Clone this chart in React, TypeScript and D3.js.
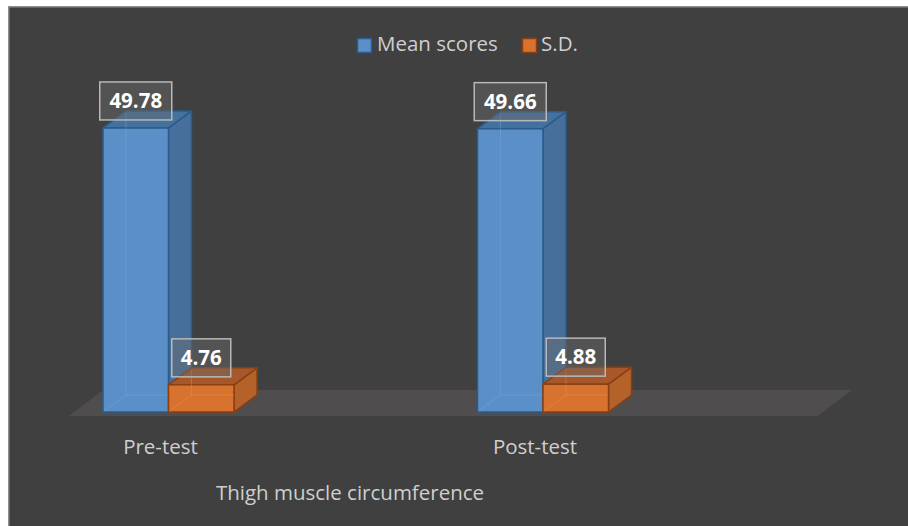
import React from "react";
import * as d3 from "d3";

const categories = ["Pre-test", "Post-test"];
const seriesNames = ["Mean scores", "S.D."];
const meanScores = [49.78, 49.66];
const sdValues = [4.76, 4.88];
const axisTitle = "Thigh muscle circumference";

const W = 908;
const H = 526;
const FONT = "'Open Sans', 'Noto Sans', sans-serif";
const DX = 23;
const DY = 17;

const palette = [
  { front: "#5a8fc7", side: "#46709b", top: "#44729f", stroke: "#2c5a8a", ghost: "#78aee6" },
  { front: "#d8732f", side: "#b4612a", top: "#a7582a", stroke: "#8a3f10", ghost: "#f0945a" },
];

export default function App() {
  const x = d3.scaleBand<string>().domain(categories).range([69, 818]).padding(0);
  const groupOffset = 34;
  const groupWidth = 131;
  const xs = d3.scaleBand<string>().domain(seriesNames).range([0, groupWidth]).padding(0);
  const y = d3.scaleLinear().domain([0, 50]).range([412, 412 - 285.3]);
  const values = [meanScores, sdValues];

  const floorY0 = 416;
  const floorY1 = 390;
  const [fx0, fx1] = x.range();
  const floor = `M${fx0},${floorY0} L${fx1},${floorY0} L${fx1 + 34},${floorY1} L${fx0 + 34},${floorY1} Z`;

  const bars: React.ReactNode[] = [];
  const labels: React.ReactNode[] = [];
  categories.forEach((cat, ci) => {
    seriesNames.forEach((s, si) => {
      const v = values[si][ci];
      const x0 = (x(cat) as number) + groupOffset + (xs(s) as number);
      const x1 = x0 + xs.bandwidth();
      const yt = y(v);
      const yb = y(0);
      const c = palette[si];
      bars.push(
        <g key={`${cat}-${s}`} strokeLinejoin="round">
          <polygon
            points={`${x1},${yt} ${x1 + DX},${yt - DY} ${x1 + DX},${yb - DY} ${x1},${yb}`}
            fill={c.side}
            stroke={c.stroke}
            strokeWidth={1.5}
          />
          <polygon
            points={`${x0},${yt} ${x0 + DX},${yt - DY} ${x1 + DX},${yt - DY} ${x1},${yt}`}
            fill={c.top}
            stroke={c.stroke}
            strokeWidth={1.5}
          />
          <rect x={x0} y={yt} width={x1 - x0} height={yb - yt} fill={c.front} stroke={c.stroke} strokeWidth={1.5} />
          <path
            d={`M${x0 + DX},${yt - DY + 2} L${x0 + DX},${yb - DY} L${x0 + 1},${yb - 1} M${x0 + DX},${yb - DY} L${x1},${yb - DY}`}
            fill="none"
            stroke={c.ghost}
            strokeOpacity={0.35}
            strokeWidth={1}
          />
        </g>
      );
      const txt = v.toFixed(2);
      const bw = si === 0 ? 72 : 59;
      const bh = 38;
      const cx = (x0 + x1) / 2;
      const by = yt - 8 - bh;
      labels.push(
        <g key={`lab-${cat}-${s}`}>
          <rect x={cx - bw / 2} y={by} width={bw} height={bh} fill="#6a6a6a" fillOpacity={0.45} stroke="#b8b8b8" strokeWidth={1.5} />
          <text x={cx} y={by + bh / 2 + 7} textAnchor="middle" fontFamily={FONT} fontWeight={700} fontSize={20.5} fill="#ffffff">
            {txt}
          </text>
        </g>
      );
    });
  });

  return (
    <svg width={W} height={H} style={{ position: "absolute", left: 0, top: 0 }}>
      <rect x={0} y={0} width={W} height={H} fill="#ffffff" />
      <rect x={8} y={6} width={W - 8} height={H - 6} fill="#404040" />
      <path d={`M8.75,${H} L8.75,6.75 L${W},6.75`} fill="none" stroke="#8e8e8e" strokeWidth={1.5} />
      <path d={floor} fill="#4f4d4e" />
      {bars}
      {labels}
      {categories.map((cat) => (
        <text
          key={cat}
          x={(x(cat) as number) + groupOffset + groupWidth / 2 - 8}
          y={454}
          textAnchor="middle"
          fontFamily={FONT}
          fontSize={20.5}
          fill="#cfcfcf"
        >
          {cat}
        </text>
      ))}
      <text x={350} y={500} textAnchor="middle" fontFamily={FONT} fontSize={20.5} fill="#cfcfcf">
        {axisTitle}
      </text>
      <g>
        <rect x={357.5} y={38.5} width={14} height={14} fill={palette[0].front} stroke={palette[0].stroke} strokeWidth={1.5} />
        <text x={377} y={51} fontFamily={FONT} fontSize={20.5} fill="#cfcfcf">{seriesNames[0]}</text>
        <rect x={522.5} y={38.5} width={14} height={14} fill={palette[1].front} stroke={palette[1].stroke} strokeWidth={1.5} />
        <text x={541} y={51} fontFamily={FONT} fontSize={20.5} fill="#cfcfcf">{seriesNames[1]}</text>
      </g>
    </svg>
  );
}
